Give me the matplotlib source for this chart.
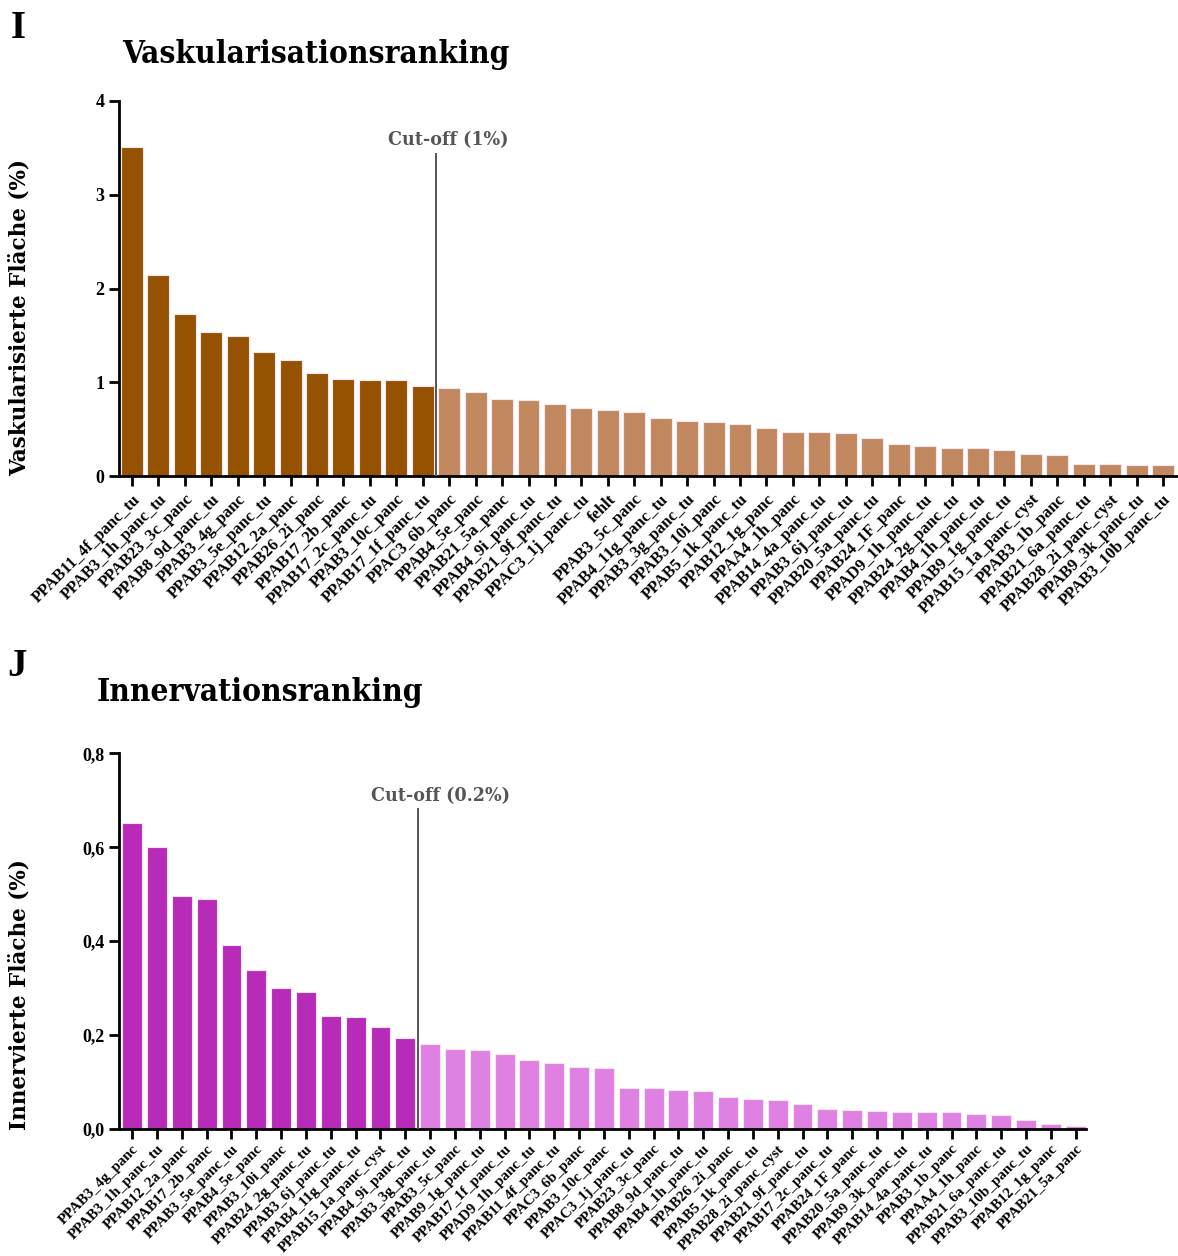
import numpy as np
import matplotlib
matplotlib.use("Agg")
import matplotlib.pyplot as plt

# --- Vaskularisation (Panel I) ---
vask_labels = [
    "PPAB11_4f_panc_tu", "PPAB3_1h_panc_tu", "PPAB23_3c_panc", "PPAB8_9d_panc_tu",
    "PPAB3_4g_panc", "PPAB3_5e_panc_tu", "PPAB12_2a_panc", "PPAB26_2i_panc",
    "PPAB17_2b_panc", "PPAB17_2c_panc_tu", "PPAB3_10c_panc", "PPAB17_1f_panc_tu",
    "PPAC3_6b_panc", "PPAB4_5e_panc", "PPAB21_5a_panc", "PPAB4_9i_panc_tu",
    "PPAB21_9f_panc_tu", "PPAC3_1j_panc_tu", "fehlt", "PPAB3_5c_panc",
    "PPAB4_11g_panc_tu", "PPAB3_3g_panc_tu", "PPAB3_10i_panc", "PPAB5_1k_panc_tu",
    "PPAB12_1g_panc", "PPAA4_1h_panc", "PPAB14_4a_panc_tu", "PPAB3_6j_panc_tu",
    "PPAB20_5a_panc_tu", "PPAB24_1F_panc", "PPAD9_1h_panc_tu", "PPAB24_2g_panc_tu",
    "PPAB4_1h_panc_tu", "PPAB9_1g_panc_tu", "PPAB15_1a_panc_cyst", "PPAB3_1b_panc",
    "PPAB21_6a_panc_tu", "PPAB28_2i_panc_cyst", "PPAB9_3k_panc_tu", "PPAB3_10b_panc_tu",
]
vask_values = [
    3.51, 2.14, 1.73, 1.54, 1.49, 1.32, 1.24, 1.10, 1.04, 1.02, 1.02, 0.96,
    0.94, 0.90, 0.82, 0.815, 0.77, 0.73, 0.70, 0.68, 0.62, 0.59, 0.58, 0.56,
    0.51, 0.47, 0.47, 0.46, 0.41, 0.345, 0.32, 0.30, 0.30, 0.28, 0.24, 0.22,
    0.13, 0.125, 0.12, 0.12,
]
vask_cutoff = 1.0

# --- Innervation (Panel J) ---
inn_labels = [
    "PPAB3_4g_panc", "PPAB3_1h_panc_tu", "PPAB12_2a_panc", "PPAB17_2b_panc",
    "PPAB3_5e_panc_tu", "PPAB4_5e_panc", "PPAB3_10i_panc", "PPAB24_2g_panc_tu",
    "PPAB3_6j_panc_tu", "PPAB4_11g_panc_tu", "PPAB15_1a_panc_cyst", "PPAB4_9i_panc_tu",
    "PPAB3_3g_panc_tu", "PPAB3_5c_panc", "PPAB9_1g_panc_tu", "PPAB17_1f_panc_tu",
    "PPAD9_1h_panc_tu", "PPAB11_4f_panc_tu", "PPAC3_6b_panc", "PPAB3_10c_panc",
    "PPAC3_1j_panc_tu", "PPAB23_3c_panc", "PPAB8_9d_panc_tu", "PPAB4_1h_panc_tu",
    "PPAB26_2i_panc", "PPAB5_1k_panc_tu", "PPAB28_2i_panc_cyst", "PPAB21_9f_panc_tu",
    "PPAB17_2c_panc_tu", "PPAB24_1F_panc", "PPAB20_5a_panc_tu", "PPAB9_3k_panc_tu",
    "PPAB14_4a_panc_tu", "PPAB3_1b_panc", "PPAA4_1h_panc", "PPAB21_6a_panc_tu",
    "PPAB3_10b_panc_tu", "PPAB12_1g_panc", "PPAB21_5a_panc",
]
inn_values = [
    0.652, 0.601, 0.497, 0.489, 0.392, 0.339, 0.299, 0.292, 0.241, 0.238, 0.216, 0.193,
    0.181, 0.170, 0.167, 0.158, 0.147, 0.139, 0.131, 0.130, 0.087, 0.086, 0.083, 0.080,
    0.067, 0.062, 0.061, 0.052, 0.042, 0.039, 0.037, 0.035, 0.035, 0.035, 0.030, 0.028,
    0.019, 0.009, 0.006,
]
inn_cutoff = 0.2

plt.rcParams["font.family"] = ["Liberation Serif", "DejaVu Serif"]
plt.rcParams["font.weight"] = "bold"
HEAD = ["DejaVu Serif"]


def ranking_panel(ax, labels, values, cutoff, dark, light, width, ylim, yticks, ytick_fmt,
                  xlim, cut_text, cut_line_top, cut_text_xy, label_size=12, label_pad=4):
    values = np.asarray(values)
    x = np.arange(len(values))
    n_dark = int(np.sum(values >= cutoff * 0.95))
    colors = [dark] * n_dark + [light] * (len(values) - n_dark)
    ax.bar(x, values, width=width, color=colors, edgecolor="#f6e6f0", linewidth=0.8)

    ax.set_xlim(*xlim)
    ax.set_ylim(*ylim)
    ax.set_yticks(yticks)
    ax.set_yticklabels([ytick_fmt(t) for t in yticks], fontsize=13, fontweight="bold")
    ax.set_xticks(x)
    ax.set_xticklabels(labels, rotation=45, ha="right", rotation_mode="anchor",
                       fontsize=label_size, fontweight="bold")
    for s in ("top", "right"):
        ax.spines[s].set_visible(False)
    for s in ("left", "bottom"):
        ax.spines[s].set_linewidth(2.0)
    ax.tick_params(axis="both", width=2.0, length=7, direction="out")
    ax.tick_params(axis="x", pad=label_pad)

    # Trennlinie zwischen den Gruppen
    xc = n_dark - 0.5
    ax.plot([xc, xc], [0, cut_line_top], color="#555555", lw=1.4, zorder=3)
    ax.text(cut_text_xy[0], cut_text_xy[1], cut_text, ha="center", va="center",
            color="#555555", fontsize=14, fontweight="bold", family=HEAD,
            fontstretch="condensed")


fig = plt.figure(figsize=(11.78, 12.56), dpi=100)

ax1 = fig.add_axes([0.1010, 0.6210, 0.8980, 0.2986])
ranking_panel(ax1, vask_labels, vask_values, vask_cutoff,
              dark="#955200", light="#c1885f", width=0.83,
              ylim=(0, 4), yticks=[0, 1, 2, 3, 4], ytick_fmt=lambda t: f"{t:g}",
              xlim=(-0.49, 39.52), cut_text="Cut-off (1%)", cut_line_top=3.43,
              cut_text_xy=(11.95, 3.58))

ax2 = fig.add_axes([0.1010, 0.1015, 0.8210, 0.2986])
ranking_panel(ax2, inn_labels, inn_values, inn_cutoff,
              dark="#b82bb8", light="#df80e3", width=0.80,
              ylim=(0, 0.8), yticks=[0, 0.2, 0.4, 0.6, 0.8],
              ytick_fmt=lambda t: f"{t:.1f}".replace(".", ","),
              xlim=(-0.53, 38.42), cut_text="Cut-off (0.2%)", cut_line_top=0.682,
              cut_text_xy=(12.43, 0.71), label_size=10.8, label_pad=3)

# Titel, Achsenbeschriftungen, Panel-Buchstaben
fig.text(122 / 1178, 1 - 55 / 1256, "Vaskularisationsranking", ha="left", va="center",
         fontsize=22.7, fontweight="bold", family=HEAD, fontstretch="condensed")
fig.text(97 / 1178, 1 - 693 / 1256, "Innervationsranking", ha="left", va="center",
         fontsize=22.7, fontweight="bold", family=HEAD, fontstretch="condensed")
fig.text(20 / 1178, 1 - 318 / 1256, "Vaskularisierte Fläche (%)", rotation=90,
         ha="center", va="center", fontsize=15.5, fontweight="bold", family=HEAD)
fig.text(20 / 1178, 1 - 995 / 1256, "Innervierte Fläche (%)", rotation=90,
         ha="center", va="center", fontsize=15.5, fontweight="bold", family=HEAD)
fig.text(18 / 1178, 1 - 28 / 1256, "I", ha="center", va="center", fontsize=28, fontweight="bold")
fig.text(17 / 1178, 1 - 667 / 1256, "J", ha="center", va="center", fontsize=28, fontweight="bold")

fig.savefig("out.png", dpi=100)
plt.close(fig)
